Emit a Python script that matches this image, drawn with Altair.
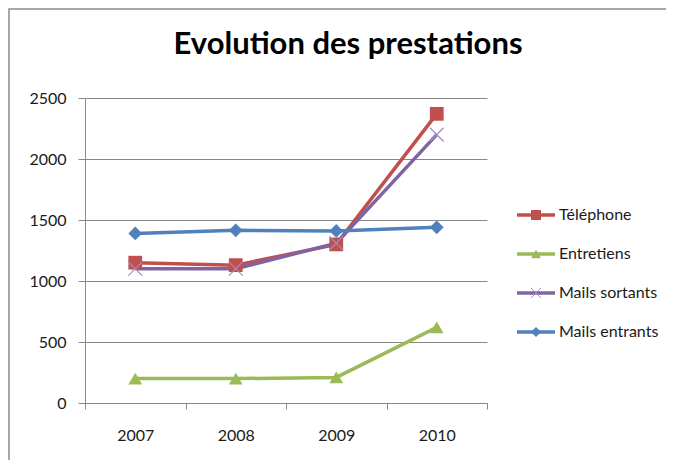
import altair as alt
import pandas as pd

years = ["2007", "2008", "2009", "2010"]
series = ["Téléphone", "Entretiens", "Mails sortants", "Mails entrants"]
telephone = [1150, 1130, 1300, 2370]
entretiens = [200, 200, 210, 620]
mails_sortants = [1100, 1100, 1310, 2200]
mails_entrants = [1390, 1415, 1410, 1440]
colors = ["#C0504D", "#9BBB59", "#8064A2", "#4F81BD"]
y_ticks = [0, 500, 1000, 1500, 2000, 2500]
title_text = ["Evolution des prestations"]

X_PATH = "M-1,-1L1,1M-1,1L1,-1"
FONT = "Lato"
GRID = "#878787"
TXT = "#1a1a1a"

rows = []
for name, vals in zip(series, [telephone, entretiens, mails_sortants, mails_entrants]):
    for yr, v in zip(years, vals):
        rows.append({"serie": name, "annee": yr, "valeur": v})
df = pd.DataFrame(rows)
ldf = pd.DataFrame({"serie": series})

color = alt.Color("serie:N", scale=alt.Scale(domain=series, range=colors), legend=None)
shape = alt.Shape("serie:N", scale=alt.Scale(domain=series, range=["square", "triangle-up", X_PATH, "diamond"]), legend=None)

x = alt.X(
    "annee:O",
    scale=alt.Scale(type="band", paddingInner=0, paddingOuter=0),
    bandPosition=0.5,
    axis=alt.Axis(title=None, labelAngle=0, tickBand="extent", tickSize=6, grid=False,
                  domainColor=GRID, tickColor=GRID, labelPadding=18, labelFontSize=16,
                  labelFont=FONT, labelColor=TXT),
)
y = alt.Y(
    "valeur:Q",
    scale=alt.Scale(domain=[0, 2500]),
    axis=alt.Axis(title=None, values=y_ticks, format="d", tickSize=7, grid=True, gridColor=GRID,
                  domainColor=GRID, tickColor=GRID, labelPadding=12, labelFontSize=16,
                  labelFont=FONT, labelColor=TXT),
)

base = alt.Chart(df)
lines = base.mark_line(strokeWidth=3.5).encode(x=x, y=y, color=color)
pts = base.transform_filter(alt.datum.serie != "Mails sortants").mark_point(
    filled=True, opacity=1, size=190).encode(x=x, y=y, color=color, shape=shape)
xm = base.transform_filter(alt.datum.serie == "Mails sortants").mark_point(
    shape=X_PATH, filled=False, stroke="#A08CC8", strokeWidth=1.2, size=190, opacity=1).encode(x=x, y=y)
main = alt.layer(lines, pts, xm)

ly = alt.Y("serie:N", scale=alt.Scale(type="point", domain=series, range=[117, 234], padding=0), axis=None)
lbase = alt.Chart(ldf)
l_rule = lbase.mark_rule(strokeWidth=3.5).encode(x=alt.value(432), x2=alt.value(470), y=ly, color=color)
l_pts = lbase.transform_filter(alt.datum.serie != "Mails sortants").mark_point(
    filled=True, opacity=1, size=100).encode(x=alt.value(451), y=ly, color=color, shape=shape)
l_xm = lbase.transform_filter(alt.datum.serie == "Mails sortants").mark_point(
    shape=X_PATH, filled=False, stroke="#A08CC8", strokeWidth=1, size=110, opacity=1).encode(x=alt.value(451), y=ly)
l_txt = lbase.mark_text(align="left", baseline="middle", font=FONT, fontSize=16, color=TXT).encode(
    x=alt.value(474), y=ly, text="serie:N")
legend = alt.layer(l_rule, l_pts, l_xm, l_txt)

one = pd.DataFrame({"t": title_text})
border = alt.Chart(one).mark_rect(fillOpacity=0, stroke="#8a8a8a", strokeWidth=1.5).encode(
    x=alt.value(-76), x2=alt.value(700), y=alt.value(-89), y2=alt.value(500))
title = alt.Chart(one).mark_text(font=FONT, fontSize=31, fontWeight="bold", color="black",
                                 align="center", baseline="alphabetic").encode(
    x=alt.value(263), y=alt.value(-44), text="t:N")

chart = alt.layer(border, title, main, legend).resolve_scale(
    y="independent", x="independent").properties(
    width=402,
    height=305,
    autosize=alt.AutoSizeParams(type="none"),
    padding={"left": 77, "top": 90, "right": 179, "bottom": 57},
).configure_view(stroke=None)

chart.save("out.html", embed_options={"renderer": "svg", "actions": False})
